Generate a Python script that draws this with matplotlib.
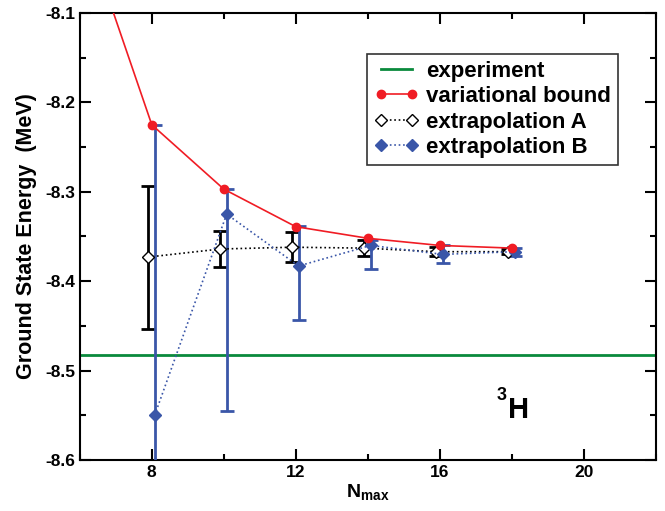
import matplotlib.pyplot as plt
from matplotlib.lines import Line2D
import numpy as np

plt.rcParams['font.family'] = ['Liberation Sans', 'DejaVu Sans']
plt.rcParams['font.weight'] = 'bold'
plt.rcParams['mathtext.fontset'] = 'custom'
plt.rcParams['mathtext.bf'] = 'Liberation Sans:bold'
plt.rcParams['mathtext.rm'] = 'Liberation Sans:bold'

# data
nmax = np.array([8, 10, 12, 14, 16, 18])
experiment = -8.482

# variational bound (first point at Nmax=6 lies above the frame)
var_n = np.array([6, 8, 10, 12, 14, 16, 18])
var_e = np.array([-7.99, -8.225, -8.297, -8.339, -8.352, -8.360, -8.363])

# extrapolation A with symmetric errors
a_e = np.array([-8.373, -8.364, -8.362, -8.363, -8.367, -8.367])
a_err = np.array([0.080, 0.020, 0.017, 0.009, 0.005, 0.003])

# extrapolation B with lower / upper errors
b_e = np.array([-8.550, -8.325, -8.383, -8.360, -8.370, -8.367])
b_lo = np.array([0.33, 0.220, 0.060, 0.026, 0.010, 0.005])
b_hi = np.array([0.325, 0.028, 0.045, 0.006, 0.010, 0.004])

red = '#f01c24'
blue = '#3a56a8'
green = '#0a8a3c'

fig = plt.figure(figsize=(6.65, 5.11), dpi=100)
ax = fig.add_axes([0.120, 0.0998, 0.866, 0.8748])

ax.axhline(experiment, color=green, lw=2)
ax.plot(var_n, var_e, '-o', color=red, lw=1.2, ms=6, zorder=4)
ax.errorbar(nmax - 0.1, a_e, yerr=a_err, fmt=':D', color='black', mfc='white', mec='black',
            ms=6, lw=1.2, elinewidth=2, capsize=5, capthick=2, zorder=3)
ax.errorbar(nmax + 0.08, b_e, yerr=[b_lo, b_hi], fmt=':D', color=blue, mfc=blue, mec=blue,
            ms=6, lw=1.2, elinewidth=2, capsize=5, capthick=2, zorder=3)

ax.set_xlim(6, 22)
ax.set_ylim(-8.6, -8.1)
ax.set_xticks([8, 12, 16, 20])
ax.set_xticks([6, 10, 14, 18, 22], minor=True)
ax.set_yticks([-8.6, -8.5, -8.4, -8.3, -8.2, -8.1])
ax.set_yticks(np.arange(-8.55, -8.1, 0.1), minor=True)
ax.set_yticklabels(['-8.6', '-8.5', '-8.4', '-8.3', '-8.2', '-8.1'])
ax.tick_params(which='both', direction='in', top=True, right=True, width=1.5, labelsize=12.5)
ax.tick_params(which='major', length=8)
ax.tick_params(which='minor', length=4)
for s in ax.spines.values():
    s.set_linewidth(1.5)

ax.set_ylabel('Ground State Energy  (MeV)', fontsize=15.5, fontweight='bold', labelpad=6)
ax.set_xlabel(r'N$_{\mathbf{max}}$', fontsize=14, fontweight='bold', labelpad=2)

# nucleus label 3H
ax.text(0.724, 0.134, '3', transform=ax.transAxes, fontsize=13, fontweight='bold', va='baseline')
ax.text(0.743, 0.094, 'H', transform=ax.transAxes, fontsize=21, fontweight='bold', va='baseline')

handles = [
    Line2D([], [], color=green, lw=2),
    Line2D([], [], color=red, lw=1.2, marker='o', ms=6),
    Line2D([], [], color='black', ls=':', lw=1.2, marker='D', ms=6, mfc='white'),
    Line2D([], [], color=blue, ls=':', lw=1.2, marker='D', ms=6, mfc=blue, mec=blue),
]
labels = ['experiment', 'variational bound', 'extrapolation A', 'extrapolation B']
leg = ax.legend(handles, labels, loc='upper right', bbox_to_anchor=(0.934, 0.908),
                borderaxespad=0, fontsize=16, numpoints=2, frameon=True, fancybox=False,
                edgecolor='black', handlelength=2.0, handletextpad=0.35, borderpad=0.3,
                labelspacing=0.2)
leg.get_frame().set_linewidth(1.2)

fig.savefig('out.png', dpi=100)
